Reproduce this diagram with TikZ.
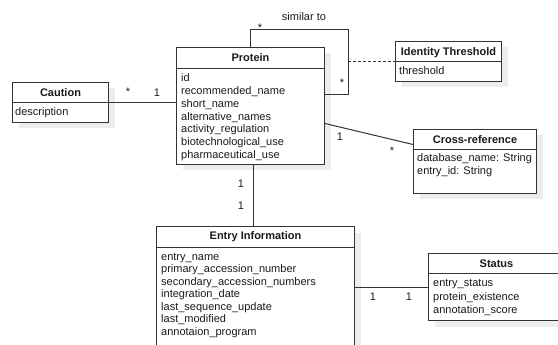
\documentclass[tikz,border=0pt]{standalone}
\usepackage{fontspec}
\setmainfont{Liberation Sans}
\usetikzlibrary{shadows,calc}
\definecolor{linec}{HTML}{333333}
\definecolor{textc}{HTML}{1A1A1A}
\definecolor{shadowc}{HTML}{EDEDED}
\begin{document}
\begin{tikzpicture}[x=1pt,y=-1pt,
  umlclass/.style={draw=linec, line width=1pt, fill=white, rectangle, inner sep=0pt,
    anchor=north west,
    drop shadow={shadow xshift=6pt, shadow yshift=-6pt, fill=shadowc, opacity=1}},
  classtitle/.style={font=\fontsize{11}{13}\selectfont\bfseries, anchor=base, inner sep=0pt, text=textc},
  attr/.style={font=\fontsize{11}{13}\selectfont, anchor=base west, inner sep=0pt, text=textc},
  conn/.style={draw=linec, line width=1pt},
  mult/.style={font=\fontsize{11}{13}\selectfont, anchor=base, inner sep=0pt, text=textc}]
\useasboundingbox (0,0) rectangle (558,345);
\clip (0,0) rectangle (558,345);

% ---------- classes ----------
% Protein
\node[umlclass, minimum width=148pt, minimum height=117pt] (protein) at (176,47) {};
\node[classtitle] (proteintitle) at ($(protein.north)+(0,15)$) {Protein};
\draw[conn] ($(protein.north west)+(0,22)$) -- ($(protein.north east)+(0,22)$);
\foreach \t [count=\i from 0] in {id, recommended\_name, short\_name, alternative\_names,
    activity\_regulation, biotechnological\_use, pharmaceutical\_use}
  \node[attr] at ($(protein.north west)+(5,35+12.7*\i)$) {\t};

% Identity Threshold
\node[umlclass, minimum width=106pt, minimum height=40pt] (ithr) at (395,41) {};
\node[classtitle] (ithrtitle) at ($(ithr.north)+(0,15)$) {Identity Threshold};
\draw[conn] ($(ithr.north west)+(0,21)$) -- ($(ithr.north east)+(0,21)$);
\node[attr] at ($(ithr.north west)+(4,34)$) {threshold};

% Caution
\node[umlclass, minimum width=96pt, minimum height=40pt] (caution) at (12,82) {};
\node[classtitle] (cautiontitle) at ($(caution.north)+(0,15)$) {Caution};
\draw[conn] ($(caution.north west)+(0,21)$) -- ($(caution.north east)+(0,21)$);
\node[attr] at ($(caution.north west)+(3,34)$) {description};

% Cross-reference
\node[umlclass, minimum width=123pt, minimum height=64pt] (xref) at (413,129) {};
\node[classtitle] (xreftitle) at ($(xref.north)+(0,14)$) {Cross-reference};
\draw[conn] ($(xref.north west)+(0,21)$) -- ($(xref.north east)+(0,21)$);
\node[attr] at ($(xref.north west)+(4,33)$) {database\_name: String};
\node[attr] at ($(xref.north west)+(4,46)$) {entry\_id: String};

% Entry Information
\node[umlclass, minimum width=198pt, minimum height=140pt] (entry) at (156,226) {};
\node[classtitle] (entrytitle) at ($(entry.north)+(0,14)$) {Entry Information};
\draw[conn] ($(entry.north west)+(0,21)$) -- ($(entry.north east)+(0,21)$);
\foreach \t [count=\i from 0] in {entry\_name, primary\_accession\_number,
    secondary\_accession\_numbers, integration\_date, last\_sequence\_update,
    last\_modified, annotaion\_program}
  \node[attr] at ($(entry.north west)+(5,34+12.5*\i)$) {\t};

% Status
\node[umlclass, minimum width=136pt, minimum height=67pt] (status) at (428,253) {};
\node[classtitle] (statustitle) at ($(status.north)+(0,14)$) {Status};
\draw[conn] ($(status.north west)+(0,20)$) -- ($(status.north east)+(0,20)$);
\foreach \t [count=\i from 0] in {entry\_status, protein\_existence, annotation\_score}
  \node[attr] at ($(status.north west)+(5,34+13*\i)$) {\t};

% ---------- associations ----------
% reflexive "similar to" association
\coordinate (loopTR) at (348,30);
\coordinate (loopBR) at (348,95);
\draw[conn] (protein.north) |- (loopTR) -- (loopBR) -- (loopBR -| protein.east);
\node[mult] at (304,21) {similar to};
\node[mult] at (260,32) {*};
\node[mult] at (342,87) {*};

% association class link
\draw[conn, dash pattern=on 3pt off 2pt] (loopTR |- ithr.west) -- (ithr.west);

% Caution -- Protein
\draw[conn] (caution.east) -- (caution.east -| protein.west);
\node[mult] at (128,96) {*};
\node[mult] at (157,97) {1};

% Protein -- Cross-reference
\draw[conn] ([yshift=-17.5pt]protein.east) -- ([yshift=17pt]xref.west);
\node[mult] at (340,141) {1};
\node[mult] at (392,154) {*};

% Protein -- Entry Information
\draw[conn] ([xshift=3pt]protein.south) -- ([xshift=-2pt]entry.north);
\node[mult] at (241,188) {1};
\node[mult] at (241,209) {1};

% Entry Information -- Status
\draw[conn] (status.west) -- (status.west -| entry.east);
\node[mult] at (373,300) {1};
\node[mult] at (409,300) {1};
\end{tikzpicture}
\end{document}
